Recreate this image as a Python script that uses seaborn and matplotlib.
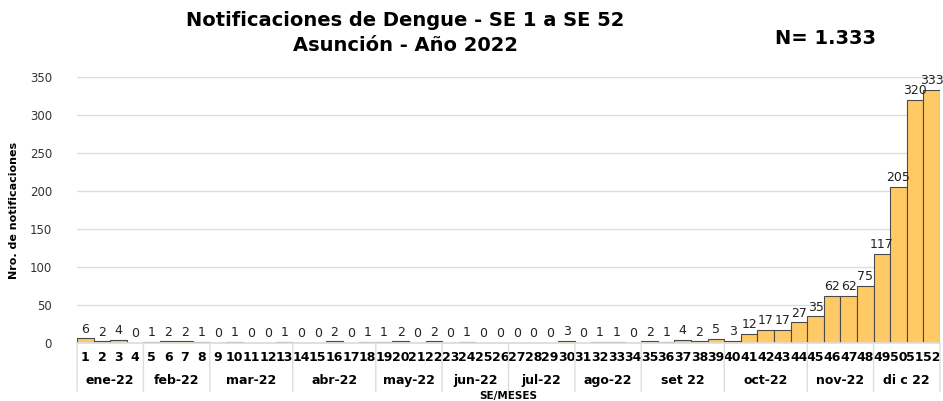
import numpy as np
import pandas as pd
import matplotlib
matplotlib.use("Agg")
import matplotlib.pyplot as plt
import seaborn as sns

sns.set_theme(style="white")
plt.rcParams['font.family'] = ['DejaVu Sans']
plt.rcParams['text.color'] = 'black'
plt.rcParams['axes.labelcolor'] = 'black'
plt.rcParams['xtick.color'] = 'black'

# ------------------------------------------------------------------
# Data: weekly dengue notifications, Asuncion 2022
# ------------------------------------------------------------------
weeks = [str(i) for i in range(1, 53)]
cases = [6, 2, 4, 0, 1, 2, 2, 1, 0, 1, 0, 0, 1, 0, 0, 2, 0, 1, 1, 2,
         0, 2, 0, 1, 0, 0, 0, 0, 0, 3, 0, 1, 1, 0, 2, 1, 4, 2, 5, 3,
         12, 17, 17, 27, 35, 62, 62, 75, 117, 205, 320, 333]
months = ['ene-22', 'feb-22', 'mar-22', 'abr-22', 'may-22', 'jun-22',
          'jul-22', 'ago-22', 'set 22', 'oct-22', 'nov-22', 'di c 22']
weeks_per_month = [4, 4, 5, 5, 4, 4, 4, 4, 5, 5, 4, 4]

df = pd.DataFrame({'SE': weeks, 'Casos': cases})
total = sum(cases)

# ------------------------------------------------------------------
# Figure
# ------------------------------------------------------------------
fig = plt.figure(figsize=(9.43, 4.01), dpi=100)
ax = fig.add_axes([0.0817, 0.1446, 0.9151, 0.6634])

sns.barplot(data=df, x='SE', y='Casos', color='#FFC966', width=1.0,
            edgecolor='#4a4a4a', linewidth=0.8, saturation=1, ax=ax)

ax.set_xlim(-0.5, len(weeks) - 0.5)
ax.set_ylim(0, 350)
ax.set_yticks(np.arange(0, 351, 50))
ax.yaxis.grid(True, color='#dddddd', linewidth=1)
ax.set_axisbelow(True)
for s in ['top', 'right', 'left']:
    ax.spines[s].set_visible(False)
ax.spines['bottom'].set_color('#dddddd')
ax.tick_params(axis='y', length=0, labelsize=8.5, labelcolor='#333333', pad=18)
ax.tick_params(axis='x', length=0, labelsize=9, pad=6)
for lab in ax.get_xticklabels():
    lab.set_fontweight('bold')

ax.set_xlabel('')
ax.set_ylabel('Nro. de notificaciones', fontsize=8, fontweight='bold', labelpad=8)

# value labels
for i, v in enumerate(cases):
    ax.annotate(str(v), (i, v), xytext=(0, 2), textcoords='offset points',
                ha='center', va='bottom', fontsize=9, color='#222222')

# month groups and separators
start = 0
bounds = [-0.5]
for name, n in zip(months, weeks_per_month):
    center = start + (n - 1) / 2
    ax.annotate(name, (center, 0), xycoords=('data', 'axes fraction'),
                xytext=(0, -27), textcoords='offset points',
                ha='center', va='center', fontsize=9, fontweight='bold')
    start += n
    bounds.append(start - 0.5)
for b in bounds:
    ax.annotate('', xy=(b, 0), xycoords=('data', 'axes fraction'),
                xytext=(b, -35), textcoords=('data', 'offset points'),
                arrowprops=dict(arrowstyle='-', color='#dddddd', lw=1,
                                shrinkA=0, shrinkB=0))

ax.annotate('SE/MESES', (0.5, 0), xycoords='axes fraction',
            xytext=(0, -38), textcoords='offset points',
            ha='center', va='center', fontsize=7.5, fontweight='bold')

fig.text(0.43, 0.95, 'Notificaciones de Dengue - SE 1 a SE 52',
         ha='center', va='center', fontsize=14, fontweight='bold')
fig.text(0.43, 0.887, 'Asunción - Año 2022',
         ha='center', va='center', fontsize=14, fontweight='bold')
fig.text(0.875, 0.905, f'N= {total:,}'.replace(',', '.'),
         ha='center', va='center', fontsize=14, fontweight='bold')

plt.savefig('out.png', dpi=100)
plt.close()
